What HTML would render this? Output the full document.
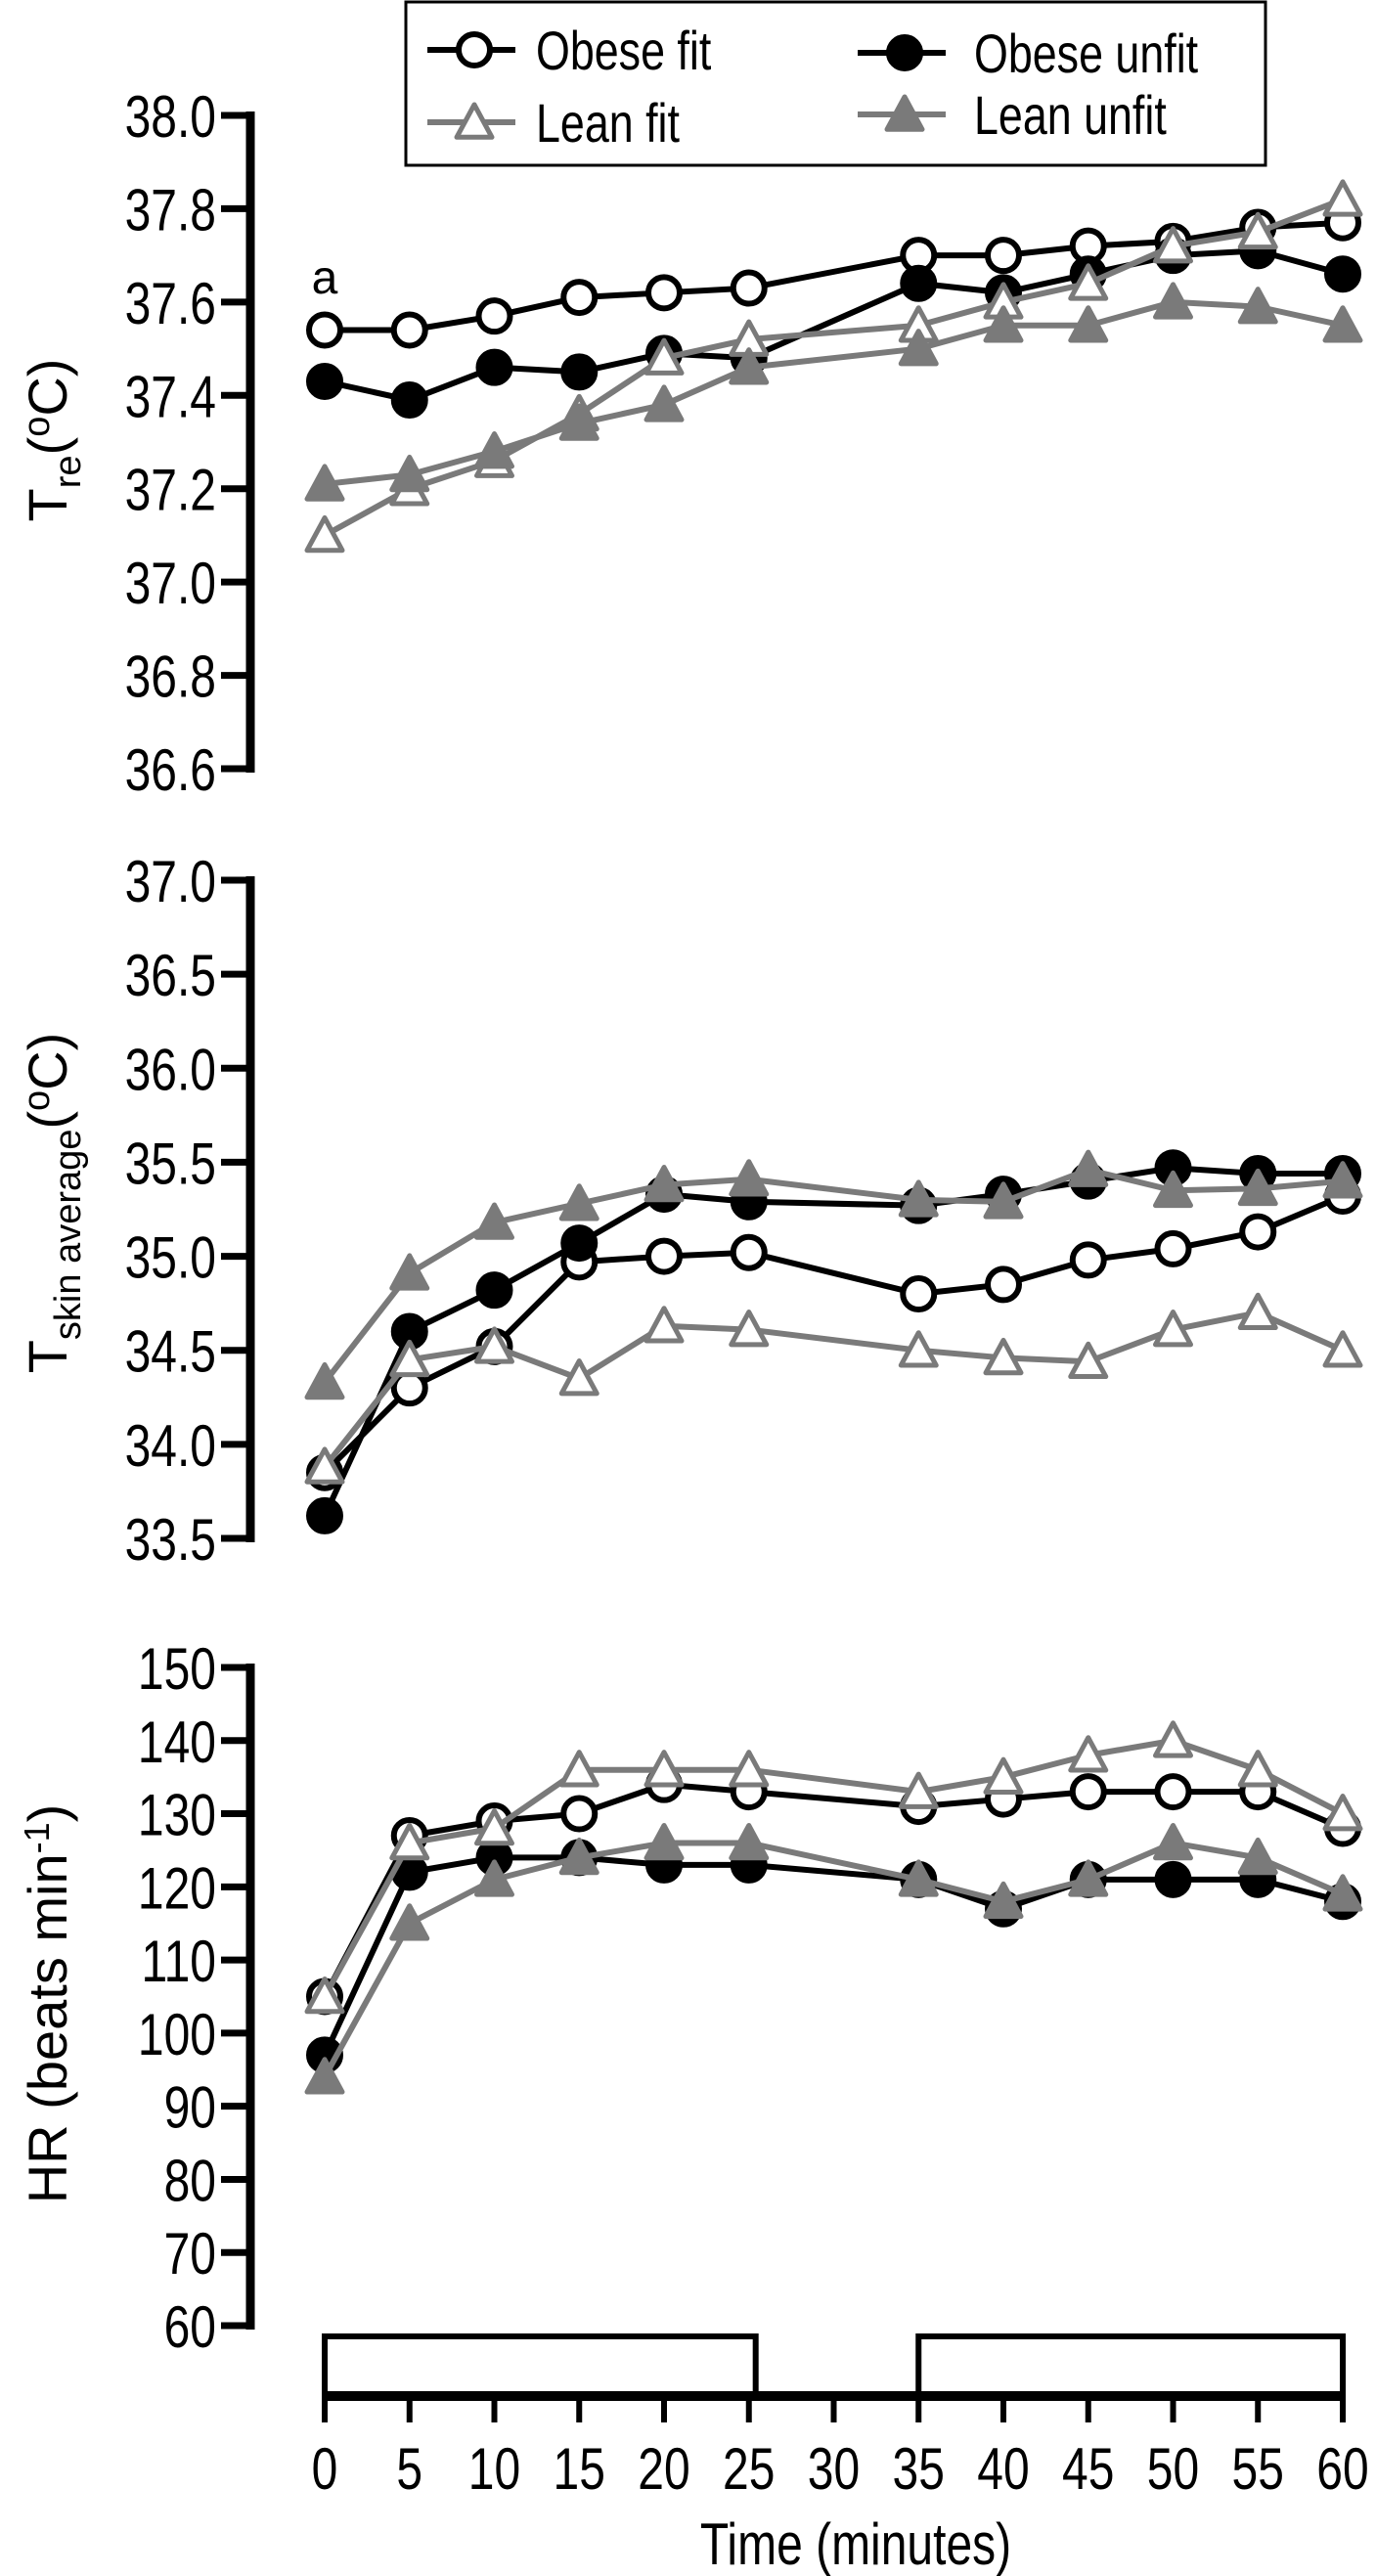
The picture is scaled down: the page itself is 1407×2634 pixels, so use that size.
<!DOCTYPE html>
<html><head><meta charset="utf-8"><style>
body{margin:0;background:#fff}
svg{display:block}
text{font-family:"Liberation Sans",sans-serif;fill:#000}
</style></head><body>
<svg id="chart" width="1407" height="2634" viewBox="0 0 1407 2634" xmlns="http://www.w3.org/2000/svg">
<g id="legend">
<rect x="415" y="2" width="879" height="167" fill="#fff" stroke="#000" stroke-width="3"/>
</g>
<g id="panels"></g>
</svg>
<script>
const times = [0,5,10,15,20,25,35,40,45,50,55,60];
const seriesNames = ["Obese fit","Obese unfit","Lean fit","Lean unfit"];
const treObeseFit = [37.54,37.54,37.57,37.61,37.62,37.63,37.70,37.70,37.72,37.73,37.76,37.77];
const treObeseUnfit = [37.43,37.39,37.46,37.45,37.49,37.48,37.64,37.62,37.66,37.70,37.71,37.66];
const treLeanFit = [37.10,37.20,37.26,37.36,37.48,37.52,37.55,37.60,37.64,37.72,37.75,37.82];
const treLeanUnfit = [37.21,37.23,37.28,37.34,37.38,37.46,37.50,37.55,37.55,37.60,37.59,37.55];
const skinObeseFit = [33.85,34.30,34.52,34.97,35.00,35.02,34.80,34.85,34.98,35.04,35.13,35.32];
const skinObeseUnfit = [33.62,34.60,34.82,35.07,35.33,35.29,35.27,35.33,35.40,35.47,35.44,35.44];
const skinLeanFit = [33.88,34.45,34.52,34.35,34.63,34.61,34.50,34.46,34.44,34.61,34.70,34.50];
const skinLeanUnfit = [34.33,34.91,35.18,35.28,35.38,35.41,35.30,35.29,35.46,35.35,35.36,35.40];
const hrObeseFit = [105,127,129,130,134,133,131,132,133,133,133,128];
const hrObeseUnfit = [97,122,124,124,123,123,121,117,121,121,121,118];
const hrLeanFit = [105,126,128,136,136,136,133,135,138,140,136,130];
const hrLeanUnfit = [94,115,121,124,126,126,121,118,121,126,124,119];
const treTicks = ["36.6","36.8","37.0","37.2","37.4","37.6","37.8","38.0"];
const skinTicks = ["33.5","34.0","34.5","35.0","35.5","36.0","36.5","37.0"];
const hrTicks = ["60","70","80","90","100","110","120","130","140","150"];
const xTicks = [0,5,10,15,20,25,30,35,40,45,50,55,60];

const NS="http://www.w3.org/2000/svg";
const svg=document.getElementById('chart');
const panelsG=document.getElementById('panels');
function mk(tag,attrs,parent){const e=document.createElementNS(NS,tag);for(const k in attrs)e.setAttribute(k,attrs[k]);(parent||svg).appendChild(e);return e;}
function ntext(parent,x,y,size,anchor,str){
  const t=mk('text',{transform:`translate(${x},${y}) scale(0.8,1)`,'text-anchor':anchor,'font-size':size},parent);
  t.textContent=str;return t;
}
const xScale=t=>332+(t/60)*(1373-332);
const GRAY="#7a7a7a";
const styles=[
 {line:"#000",marker:"circle",fill:"#fff",stroke:"#000"},
 {line:"#000",marker:"circle",fill:"#000",stroke:"#000"},
 {line:GRAY,marker:"tri",fill:"#fff",stroke:GRAY},
 {line:GRAY,marker:"tri",fill:GRAY,stroke:GRAY}];
function marker(g,s,x,y){
  if(s.marker==="circle"){return mk('circle',{cx:x,cy:y,r:16,fill:s.fill,stroke:s.stroke,'stroke-width':6},g);}
  const h=18;return mk('polygon',{points:`${x},${y-h} ${x+h},${y+h*0.85} ${x-h},${y+h*0.85}`,fill:s.fill,stroke:s.stroke,'stroke-width':5,'stroke-linejoin':'round'},g);
}
function panel(key,ticks,yTop,yBot,dataArr,titleFn){
  const vmin=parseFloat(ticks[0]),vmax=parseFloat(ticks[ticks.length-1]);
  const yScale=v=>yBot-(v-vmin)/(vmax-vmin)*(yBot-yTop);
  const g=mk('g',{},panelsG);
  
  
  const ax=mk('line',{x1:256,x2:256,y1:yTop-4,y2:yBot+4,stroke:'#000','stroke-width':9},g);
  
  
  ticks.forEach(t=>{const y=yScale(parseFloat(t));
    const tl=mk('line',{x1:226,x2:258,y1:y,y2:y,stroke:'#000','stroke-width':7},g);
    
    
    const tx=ntext(g,221,y+22,60,'end',t);
    
    
  });
  dataArr.forEach((vals,si)=>{const s=styles[si];
    const sg=mk('g',{},g);
    
    
    const pts=vals.map((v,i)=>xScale(times[i])+','+yScale(v)).join(' ');
    mk('polyline',{points:pts,fill:'none',stroke:s.line,'stroke-width':6,'stroke-linejoin':'round'},sg);
    vals.forEach((v,i)=>{const m=marker(sg,s,xScale(times[i]),yScale(v));
      
      });
  });
  titleFn(g);
}
function rotTitle(g,cx,cy,html,name){
  const t=mk('text',{transform:`translate(${cx},${cy}) rotate(-90)`,'text-anchor':'middle','font-size':56},g);
  t.innerHTML=html;
  
  
}
panel('tre',treTicks,118,786,[treObeseFit,treObeseUnfit,treLeanFit,treLeanUnfit],g=>{
  rotTitle(g,68,450,'T<tspan dy="14" font-size="38">re</tspan><tspan dy="-14">(</tspan><tspan dy="-18" font-size="38">o</tspan><tspan dy="18">C)</tspan>','tre-y-axis-title');
  const a=mk('text',{x:332,y:300,'text-anchor':'middle','font-size':48},g);a.textContent='a';
  
  
});
panel('skin',skinTicks,900,1573,[skinObeseFit,skinObeseUnfit,skinLeanFit,skinLeanUnfit],g=>{
  rotTitle(g,68,1230,'T<tspan dy="14" font-size="38">skin average</tspan><tspan dy="-14">(</tspan><tspan dy="-18" font-size="38">o</tspan><tspan dy="18">C)</tspan>','skin-y-axis-title');
});
panel('hr',hrTicks,1705,2378,[hrObeseFit,hrObeseUnfit,hrLeanFit,hrLeanUnfit],g=>{
  rotTitle(g,68,2049,'HR (beats min<tspan dy="-18" font-size="36">-1</tspan><tspan dy="18">)</tspan>','hr-y-axis-title');
});
const xg=mk('g',{});


const b1=mk('rect',{x:xScale(0),y:2389,width:xScale(25.4)-xScale(0),height:60,fill:'#fff',stroke:'#000','stroke-width':6},xg);


const b2=mk('rect',{x:xScale(35),y:2389,width:xScale(60)-xScale(35),height:60,fill:'#fff',stroke:'#000','stroke-width':6},xg);


const base=mk('line',{x1:xScale(0)-3,x2:xScale(60)+3,y1:2450,y2:2450,stroke:'#000','stroke-width':10},xg);


xTicks.forEach(t=>{
  const tl=mk('line',{x1:xScale(t),x2:xScale(t),y1:2450,y2:2477,stroke:'#000','stroke-width':6},xg);
  
  
  const tx=ntext(xg,xScale(t),2545,60,'middle',String(t));
  
  
});
const xt=ntext(xg,875,2622,60,'middle','Time (minutes)');


const lg=document.getElementById('legend');
const legPos=[[485,51,548],[925,54,996],[485,125,548],[925,117,996]];
seriesNames.forEach((n,i)=>{const [mx,my,tx]=legPos[i];const s=styles[i];
  const eg=mk('g',{},lg);
  
  
  mk('line',{x1:mx-48,x2:mx+42,y1:my,y2:my,stroke:s.line,'stroke-width':6},eg);
  marker(eg,s,mx,my);
  ntext(eg,tx,my+20,56,'start',n);
});
</script>
</body></html>
